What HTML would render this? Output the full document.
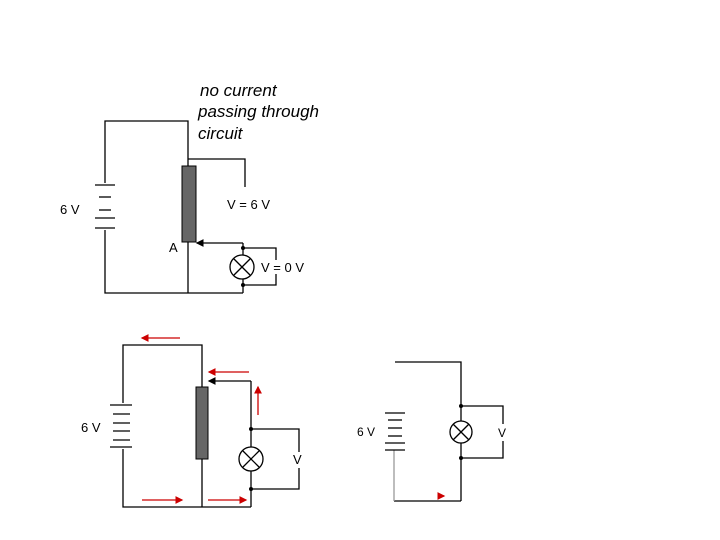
<!DOCTYPE html>
<html><head><style>body{margin:0;background:#fff}svg{display:block}</style></head><body>
<svg width="720" height="540" viewBox="0 0 720 540" xmlns="http://www.w3.org/2000/svg" font-family="Liberation Sans, sans-serif">
<defs><marker id="ar" markerWidth="6" markerHeight="6" refX="5" refY="3" orient="auto"><path d="M0,0 L6,3 L0,6z" fill="#c00"/></marker>
<marker id="bk" markerWidth="6" markerHeight="6" refX="5" refY="3" orient="auto"><path d="M0,0 L6,3 L0,6z" fill="#000"/></marker></defs>
<g stroke="#000" stroke-width="1.3" fill="none">
<polyline points="105,183 105,121 188,121 188,166"/>
<polyline points="105,230 105,293 243,293"/>
<polyline points="188,242 188,293"/>
<polyline points="188,159 245,159 245,187"/>
<line x1="95" y1="185" x2="115" y2="185"/><line x1="99" y1="197" x2="111" y2="197"/>
<line x1="99" y1="210" x2="111" y2="210"/><line x1="95" y1="218" x2="115" y2="218"/><line x1="95" y1="228" x2="115" y2="228"/>
<line x1="243" y1="243" x2="197" y2="243" marker-end="url(#bk)"/>
<line x1="243" y1="243" x2="243" y2="255"/><line x1="243" y1="279" x2="243" y2="293"/>
<polyline points="243,248 276,248 276,260"/><polyline points="276,274 276,285 243,285"/>
<circle cx="242" cy="267" r="12"/>
<line x1="234" y1="259" x2="250" y2="275"/><line x1="250" y1="259" x2="234" y2="275"/>
<polyline points="123,403 123,345 202,345 202,387"/>
<polyline points="123,449 123,507 251,507"/>
<line x1="202" y1="459" x2="202" y2="507"/>
<line x1="110" y1="405" x2="132" y2="405"/><line x1="113" y1="414" x2="130" y2="414"/><line x1="113" y1="423" x2="130" y2="423"/>
<line x1="113" y1="431" x2="130" y2="431"/><line x1="113" y1="440" x2="130" y2="440"/><line x1="110" y1="447" x2="132" y2="447"/>
<line x1="251" y1="381" x2="209" y2="381" marker-end="url(#bk)"/>
<line x1="251" y1="381" x2="251" y2="447"/><line x1="251" y1="471" x2="251" y2="507"/>
<polyline points="251,429 299,429 299,452"/><polyline points="299,468 299,489 251,489"/>
<circle cx="251" cy="459" r="12"/>
<line x1="243" y1="451" x2="259" y2="467"/><line x1="259" y1="451" x2="243" y2="467"/>
<polyline points="395,362 461,362 461,421"/>
<line x1="461" y1="443" x2="461" y2="501"/><line x1="461" y1="501" x2="394" y2="501"/>
<line x1="394" y1="450" x2="394" y2="501" stroke="#999"/>
<line x1="385" y1="413" x2="405" y2="413"/><line x1="388" y1="420" x2="402" y2="420"/><line x1="388" y1="428" x2="402" y2="428"/>
<line x1="388" y1="436" x2="402" y2="436"/><line x1="385" y1="443" x2="405" y2="443"/><line x1="385" y1="450" x2="405" y2="450"/>
<polyline points="461,406 503,406 503,424"/><polyline points="503,441 503,458 461,458"/>
<circle cx="461" cy="432" r="11"/>
<line x1="453" y1="424" x2="469" y2="440"/><line x1="469" y1="424" x2="453" y2="440"/>
</g>
<rect x="182" y="166" width="14" height="76" fill="#666" stroke="#000"/>
<rect x="196" y="387" width="12" height="72" fill="#666" stroke="#000"/>
<g fill="#000"><circle cx="243" cy="248" r="2"/><circle cx="243" cy="285" r="2"/>
<circle cx="251" cy="429" r="2"/><circle cx="251" cy="489" r="2"/>
<circle cx="461" cy="406" r="2"/><circle cx="461" cy="458" r="2"/></g>
<g stroke="#c00" stroke-width="1.3">
<line x1="180" y1="338" x2="142" y2="338" marker-end="url(#ar)"/>
<line x1="249" y1="372" x2="209" y2="372" marker-end="url(#ar)"/>
<line x1="258" y1="415" x2="258" y2="387" marker-end="url(#ar)"/>
<line x1="142" y1="500" x2="182" y2="500" marker-end="url(#ar)"/>
<line x1="208" y1="500" x2="246" y2="500" marker-end="url(#ar)"/>
<line x1="438" y1="496" x2="444" y2="496" marker-end="url(#ar)"/>
</g>
<g font-style="italic" font-size="17" fill="#000">
<text x="200" y="96">no  current</text><text x="198" y="117">passing through</text><text x="198" y="139">circuit</text></g>
<g font-size="13" fill="#000">
<text x="60" y="214">6 V</text><text x="227" y="209">V = 6 V</text><text x="169" y="252">A</text>
<text x="261" y="272">V = 0 V</text>
<text x="81" y="432">6 V</text><text x="293" y="464">V</text>
<text x="357" y="436" font-size="12">6 V</text><text x="498" y="437" font-size="12">V</text></g>
</svg>
</body></html>
